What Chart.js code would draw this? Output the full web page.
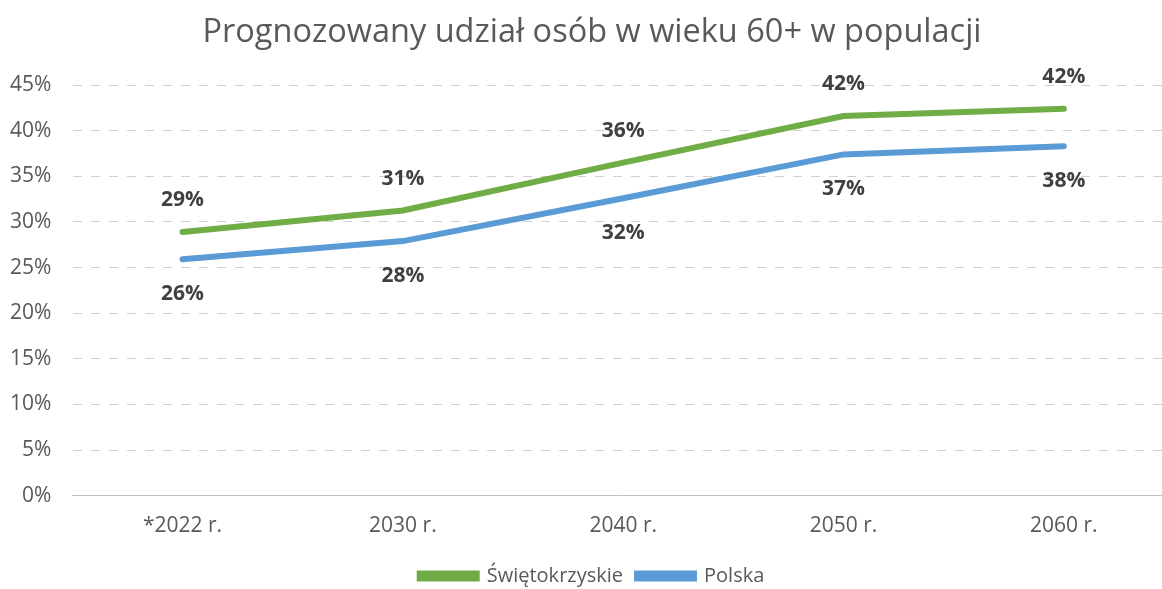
<!DOCTYPE html>
<html>
<head>
<meta charset="utf-8">
<script src="https://cdn.jsdelivr.net/npm/chart.js@4"></script>
<style>
  html, body { margin: 0; padding: 0; background: #fff; overflow: hidden; }
  #wrap { width: 1196px; height: 596px; }
</style>
</head>
<body>
<div id="wrap"><canvas id="chart"></canvas></div>
<script>
const categories = ['*2022 r.', '2030 r.', '2040 r.', '2050 r.', '2060 r.'];
const swietokrzyskie = [28.9, 31.25, 36.5, 41.6, 42.4];
const polska = [25.9, 27.9, 32.6, 37.4, 38.3];
const swLabels = ['29%', '31%', '36%', '42%', '42%'];
const plLabels = ['26%', '28%', '32%', '37%', '38%'];

const fontFamily = '"Open Sans", Lato, sans-serif';

// simple data labels (no datalabels plugin available)
const pointLabels = {
    id: 'pointLabels',
    afterDatasetsDraw(chart) {
        const ctx = chart.ctx;
        ctx.save();
        ctx.font = 'bold 21px ' + fontFamily;
        ctx.fillStyle = '#404040';
        ctx.textAlign = 'center';
        ctx.textBaseline = 'middle';
        chart.data.datasets.forEach((ds, i) => {
            const meta = chart.getDatasetMeta(i);
            meta.data.forEach((pt, j) => {
                const dy = ds.labelPos === 'above' ? -32 : 35;
                ctx.fillText(ds.labelText[j], pt.x, pt.y + dy);
            });
        });
        ctx.restore();
    }
};

new Chart(document.getElementById('chart').getContext('2d'), {
    type: 'line',
    data: {
        labels: categories,
        datasets: [
            {
                label: 'Świętokrzyskie',
                data: swietokrzyskie,
                labelText: swLabels,
                labelPos: 'above',
                borderColor: '#70ad47',
                backgroundColor: '#70ad47',
                borderWidth: 6,
                borderCapStyle: 'round',
                pointRadius: 0,
                tension: 0
            },
            {
                label: 'Polska',
                data: polska,
                labelText: plLabels,
                labelPos: 'below',
                borderColor: '#5b9bd5',
                backgroundColor: '#5b9bd5',
                borderWidth: 6,
                borderCapStyle: 'round',
                pointRadius: 0,
                tension: 0
            }
        ]
    },
    options: {
        responsive: true,
        maintainAspectRatio: false,
        animation: false,
        layout: {
            padding: { left: 10, right: 22, top: 0, bottom: 0 }
        },
        scales: {
            x: {
                offset: true,
                grid: { display: false, drawTicks: false },
                border: { display: true, color: '#c0c0c0', width: 1 },
                ticks: {
                    color: '#595959',
                    font: { family: fontFamily, size: 21 },
                    padding: 18
                },
                afterFit: (scale) => { scale.height -= 5; }
            },
            y: {
                min: 0,
                max: 45,
                grid: {
                    color: '#d0d0d0',
                    lineWidth: 1,
                    drawTicks: false
                },
                border: { display: true, color: 'rgba(0,0,0,0)', dash: [9, 9] },
                ticks: {
                    stepSize: 5,
                    color: '#595959',
                    font: { family: fontFamily, size: 21 },
                    padding: 21,
                    callback: (v) => v + '%'
                },
                afterFit: (scale) => { scale.width -= 21; }
            }
        },
        plugins: {
            title: {
                display: true,
                text: 'Prognozowany udział osób w wieku 60+ w populacji',
                color: '#595959',
                font: { family: fontFamily, size: 32.5, weight: 'normal' },
                padding: { top: 13, bottom: 33 }
            },
            legend: {
                position: 'bottom',
                labels: {
                    color: '#595959',
                    font: { family: fontFamily, size: 20 },
                    boxWidth: 57,
                    boxHeight: 5,
                    padding: 14
                }
            },
            tooltip: { enabled: false }
        }
    },
    plugins: [pointLabels]
});
</script>
</body>
</html>
